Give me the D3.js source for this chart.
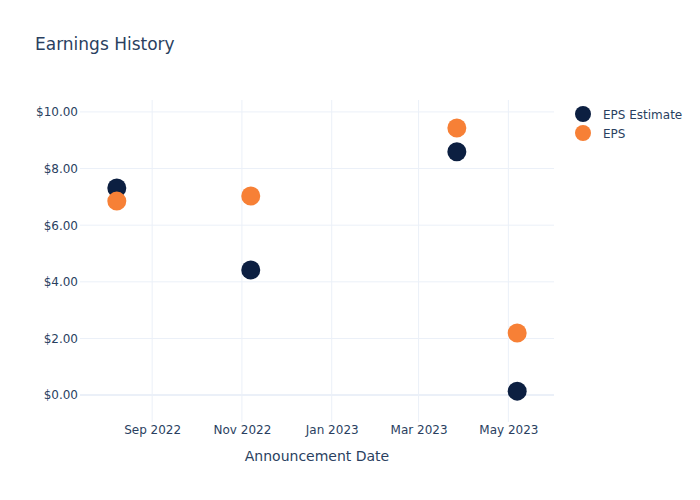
<!DOCTYPE html>
<html><head><meta charset="utf-8">
<script src="https://cdn.jsdelivr.net/npm/d3@7"></script>
<style>body{margin:0;background:#fff}svg{font-family:"DejaVu Sans",Verdana,sans-serif}</style>
</head><body><svg id="c" width="700" height="500"></svg>
<script>
const dates = ["2022-08-08","2022-11-07","2023-03-27","2023-05-07"];
const epsEstimate = [7.31, 4.42, 8.59, 0.14];
const eps = [6.85, 7.03, 9.43, 2.19];
const seriesNames = ["EPS Estimate","EPS"];
const seriesColors = ["#0c1f41","#f78036"];
const yTicks = [0,2,4,6,8,10];
const xTicks = ["2022-09-01","2022-11-01","2023-01-01","2023-03-01","2023-05-01"];
const title = "Earnings History";
const xTitle = "Announcement Date";

const parse = d3.utcParse("%Y-%m-%d");
const svg = d3.select("#c");
const L=80,R=554,T=100,B=422;
const x = d3.scaleUtc().domain([parse("2022-07-14"), parse("2023-06-01")]).range([L,R]);
const y = d3.scaleLinear().domain([-0.95,10.42]).range([B,T]);
const txt="#2a3f5f", grid="#ebf0f8";
const ff="'DejaVu Sans',Verdana,sans-serif";

// grid
svg.append("g").selectAll("line").data(xTicks).join("line")
  .attr("x1",d=>x(parse(d))).attr("x2",d=>x(parse(d))).attr("y1",T).attr("y2",B)
  .attr("stroke",grid).attr("stroke-width",1);
svg.append("g").selectAll("line").data(yTicks).join("line")
  .attr("x1",L).attr("x2",R).attr("y1",d=>y(d)).attr("y2",d=>y(d))
  .attr("stroke",grid).attr("stroke-width",d=>d===0?2:1);

// axes
const fmt = d3.format("$,.2f");
const ya = svg.append("g").attr("transform",`translate(${L},0)`)
  .call(d3.axisLeft(y).tickValues(yTicks).tickFormat(fmt).tickSize(0).tickPadding(2));
ya.select(".domain").remove();
ya.selectAll("text").attr("fill",txt).attr("font-size",12).attr("font-family",ff);
const xa = svg.append("g").attr("transform",`translate(0,${B})`)
  .call(d3.axisBottom(x).tickValues(xTicks.map(parse)).tickFormat(d3.utcFormat("%b %Y")).tickSize(0).tickPadding(3));
xa.select(".domain").remove();
xa.selectAll("text").attr("fill",txt).attr("font-size",12).attr("font-family",ff);

// points
const series=[epsEstimate,eps];
series.forEach((vals,i)=>{
  svg.append("g").selectAll("circle").data(vals).join("circle")
    .attr("cx",(d,j)=>x(parse(dates[j]))).attr("cy",d=>y(d)).attr("r",9.5)
    .attr("fill",seriesColors[i]);
});

// title
svg.append("text").attr("x",35).attr("y",50).attr("fill",txt).attr("font-size",17).text(title);
svg.append("text").attr("x",(L+R)/2).attr("y",461).attr("text-anchor","middle").attr("fill",txt).attr("font-size",14).text(xTitle);

// legend
const lg=svg.append("g").selectAll("g").data(seriesNames).join("g")
  .attr("transform",(d,i)=>`translate(583,${114+i*19})`);
lg.append("circle").attr("r",8).attr("fill",(d,i)=>seriesColors[i]);
lg.append("text").attr("x",20).attr("y",4.5).attr("fill",txt).attr("font-size",12).text(d=>d);
</script></body></html>
